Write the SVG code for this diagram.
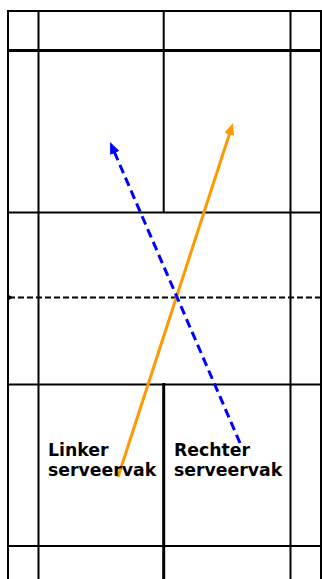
<svg xmlns="http://www.w3.org/2000/svg" width="322" height="579" viewBox="0 0 322 579">
<style>
.ln{stroke:#000;stroke-width:2;fill:none}
.thick{stroke:#000;stroke-width:3;fill:none}
.net{stroke:#000;stroke-width:2;stroke-dasharray:6,3;fill:none}
.lbl{font-family:"DejaVu Sans",Verdana,sans-serif;font-weight:bold;font-size:17.3px;fill:#000}
.orange{stroke:#FF9900;stroke-width:3;fill:none}
.blue{stroke:#0000FF;stroke-width:3;stroke-dasharray:9,5;fill:none}
</style>
<defs>
<marker id="ao" markerUnits="userSpaceOnUse" markerWidth="13" markerHeight="11" refX="4" refY="5" orient="auto"><path d="M0,0 L12,5 L0,10 z" fill="#FF9900"/></marker>
<marker id="ab" markerUnits="userSpaceOnUse" markerWidth="13" markerHeight="11" refX="4" refY="5" orient="auto"><path d="M0,0 L12,5 L0,10 z" fill="#0000FF"/></marker>
</defs>
<rect width="322" height="579" fill="#fff"/>
<g id="court">
<line class="ln" x1="8" y1="11" x2="8" y2="579"/>
<line class="ln" x1="321" y1="11" x2="321" y2="579"/>
<line class="ln" x1="7" y1="11" x2="322" y2="11"/>
<line class="ln" x1="38.5" y1="11" x2="38.5" y2="579"/>
<line class="ln" x1="290.5" y1="11" x2="290.5" y2="579"/>
<line class="thick" x1="8" y1="50.5" x2="322" y2="50.5"/>
<line class="ln" x1="8" y1="212.5" x2="322" y2="212.5"/>
<line class="ln" x1="8" y1="384.5" x2="322" y2="384.5"/>
<line class="ln" x1="8" y1="546" x2="322" y2="546"/>
<line class="ln" x1="163.7" y1="11" x2="163.7" y2="212.5"/>
<line class="thick" x1="163.7" y1="383" x2="163.7" y2="579"/>
<line class="net" x1="9" y1="297.5" x2="322" y2="297.5"/>
<path d="M8,294.5 L13,297.5 L8,300.5 z" fill="#000"/>
</g>
<g id="connectors">
<line class="orange" x1="118" y1="477" x2="230.5" y2="130.6" marker-end="url(#ao)"/>
<line class="blue" x1="240" y1="443" x2="113.2" y2="149.3" marker-end="url(#ab)"/>
</g>
<g id="label-links">
<text class="lbl" x="48" y="456">Linker</text>
<text class="lbl" x="48" y="476">serveervak</text>
</g>
<g id="label-rechts">
<text class="lbl" x="174" y="456">Rechter</text>
<text class="lbl" x="174" y="476">serveervak</text>
</g>
</svg>
